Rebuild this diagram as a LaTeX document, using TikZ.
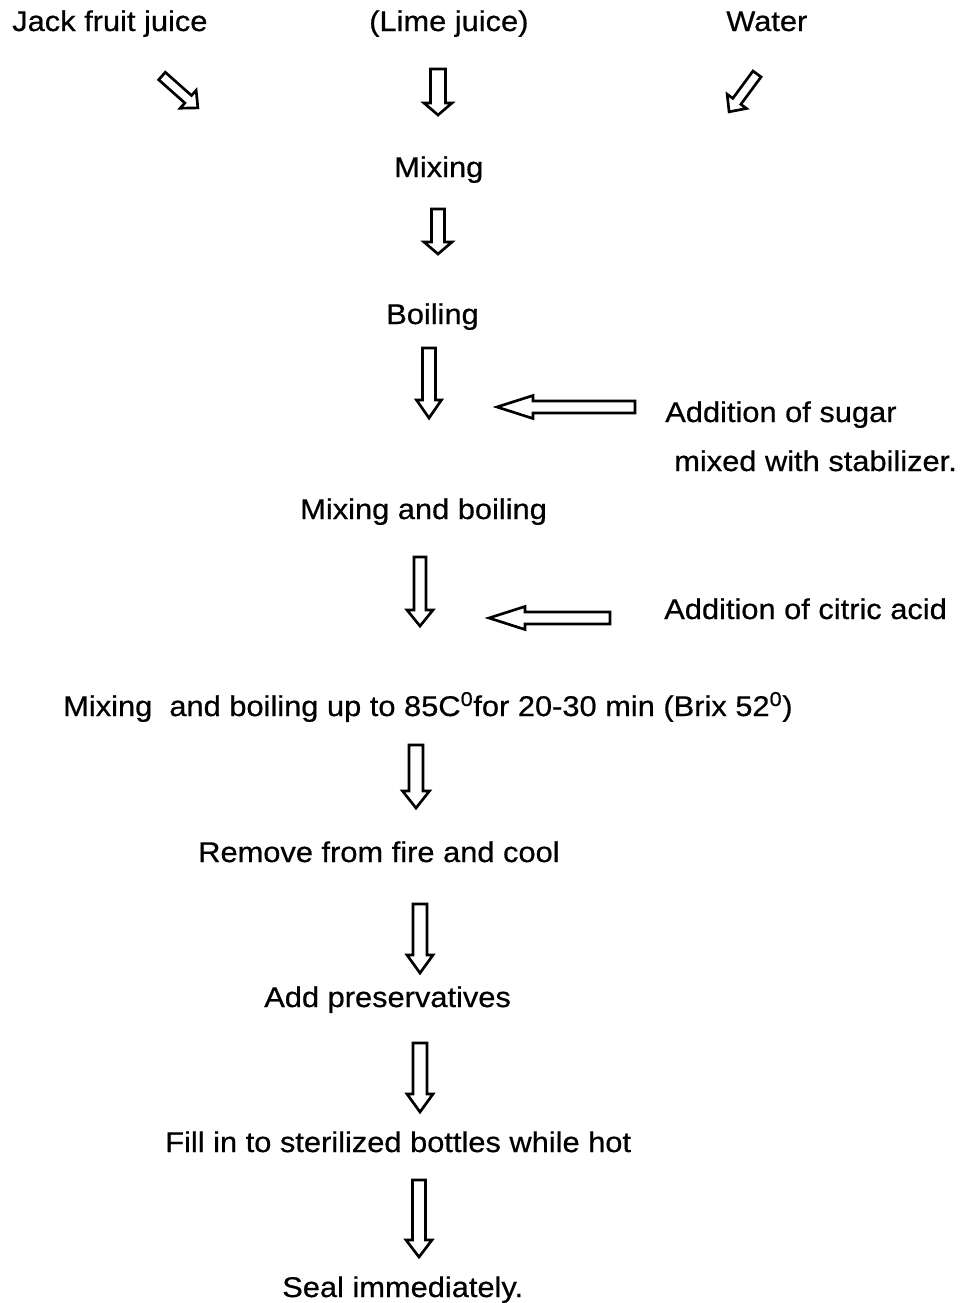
\documentclass[tikz,border=0pt]{standalone}
\usepackage{fontspec}
\setmainfont[FakeStretch=1.08, FakeBold=0.6]{Liberation Sans}

% hollow block arrow pointing down: centre x, top y, tip y, shaft half width, head half width, head length
\newcommand\downblock[6]{%
  \draw[blk] ({#1-#4},#2) -- ({#1+#4},#2) -- ({#1+#4},{#3-#6}) -- ({#1+#5},{#3-#6})
    -- (#1,#3) -- ({#1-#5},{#3-#6}) -- ({#1-#4},{#3-#6}) -- cycle;}
% hollow block arrow in any direction: tail x, tail y, angle, length, shaft half, head half, head length
\newcommand\slantblock[7]{%
  \draw[blk, shift={(#1,#2)}, rotate=#3] (0,{-#5}) -- ({#4-#7},{-#5}) -- ({#4-#7},{-#6})
    -- (#4,0) -- ({#4-#7},#6) -- ({#4-#7},#5) -- (0,#5) -- cycle;}

\tikzset{
  lbl/.style={anchor=base west, inner sep=0pt, font=\fontsize{21.4}{26}\selectfont},
  blk/.style={draw=black, line width=2pt, line join=miter, fill=white},
}

\begin{document}
\begin{tikzpicture}[x=0.75pt, y=-0.75pt]
  \useasboundingbox (0,0) rectangle (976,1303);

  % ingredients
  \node[lbl] (jack)  at (12,31)  {Jack fruit juice};
  \node[lbl] (lime)  at (369,31) {(Lime juice)};
  \node[lbl] (water) at (726,31) {Water};

  \slantblock{162}{76}{-41.6}{48}{5}{12}{13}
  \downblock{438}{69}{115}{7.5}{14}{12}
  \slantblock{757}{74}{-126.4}{47}{5}{12}{13}

  % process steps
  \node[lbl] (mix1) at (394,177) {Mixing};
  \downblock{438}{209}{254}{6.5}{14}{12}
  \node[lbl] (boil) at (386,324) {Boiling};
  \downblock{429}{348}{418}{6.5}{12.5}{18}

  \slantblock{635}{407}{180}{138}{6}{11.5}{36}
  \node[lbl] (sugar) at (665,422) {Addition of sugar};
  \node[lbl] (stab)  at (674,471) {mixed with stabilizer.};

  \node[lbl] (mix2) at (300,519) {Mixing and boiling};
  \downblock{420}{557}{626}{6}{13}{16}

  \slantblock{610}{618}{180}{121}{6}{11.5}{36}
  \node[lbl] (citric) at (664,619) {Addition of citric acid};

  \node[lbl] (mix3) at (63,716)
    {Mixing\ \ and boiling up to 85C\textsuperscript{0}for 20-30 min (Brix 52\textsuperscript{0})};
  \downblock{416}{745}{808}{7}{13.5}{17}

  \node[lbl] (cool) at (198,862) {Remove from fire and cool};
  \downblock{420}{904}{973}{7}{13}{18}

  \node[lbl] (pres) at (264,1007) {Add preservatives};
  \downblock{420}{1043}{1112}{7}{13}{18}

  \node[lbl] (fill) at (165,1152) {Fill in to sterilized bottles while hot};
  \downblock{419}{1180}{1257}{6.5}{13}{17}

  \node[lbl] (seal) at (282,1297) {Seal immediately.};
\end{tikzpicture}
\end{document}
